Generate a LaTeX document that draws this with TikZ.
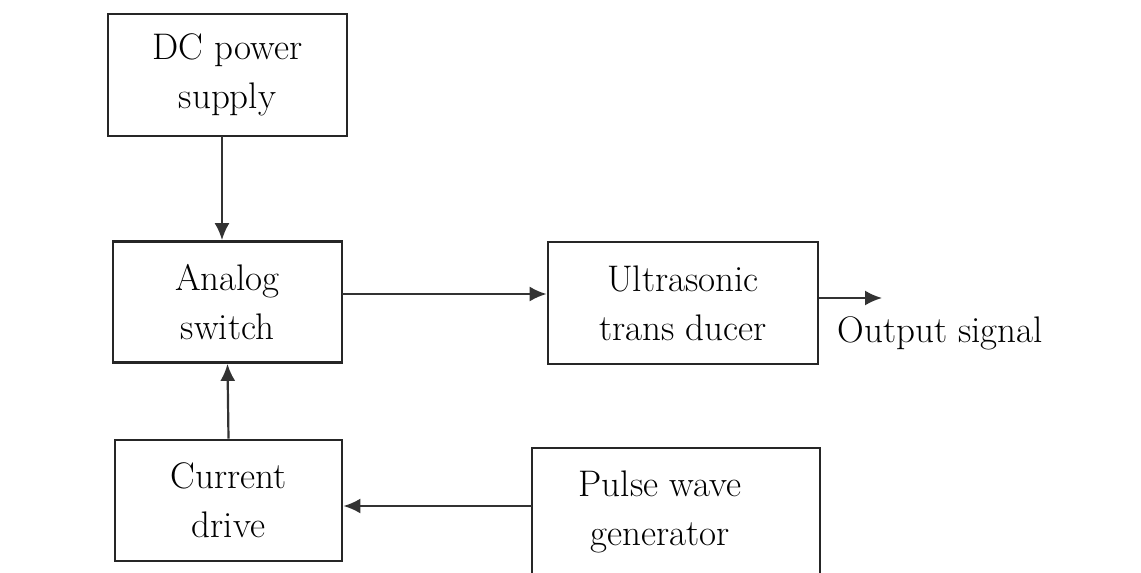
\documentclass[tikz,border=0pt]{standalone}
\usetikzlibrary{arrows.meta}
\begin{document}
\begin{tikzpicture}[x=1pt,y=-1pt,
  txt/.style={font=\fontsize{37}{49}\selectfont},
  blk/.style={draw=black!85,line width=2.8pt,inner sep=0pt,align=center,txt},
  arr/.style={draw=black!80,line width=2.2pt,-{Latex[length=17pt,width=15pt]}}]
\useasboundingbox[fill=white] (0,0) rectangle (1141,573);
\node[blk,minimum width=239pt,minimum height=122pt] (dc) at (227.5,75) {DC power\\supply};
\node[blk,minimum width=229pt,minimum height=121pt] (as) at (227.5,302) {Analog\\switch};
\node[blk,minimum width=270pt,minimum height=122pt] (us) at (683,303) {Ultrasonic\\trans ducer};
\node[blk,minimum width=227pt,minimum height=121pt] (cd) at (228.5,500.5) {Current\\drive};
\node[blk,minimum width=288pt,minimum height=142pt] (pw) at (676,519) {};
\node[txt,align=center] (pwt) at (660,512) {Pulse wave\\generator};
\node[txt,anchor=west] (outl) at (834,333) {Output signal};
\coordinate (out) at (882,298);
\coordinate (a1) at (342,294);
\coordinate (p1) at (532,506);
\coordinate (d1) at (222,136);
\draw[arr] (d1) -- (d1 |- as.north);
\draw[arr] (a1) -- (a1 -| us.west);
\draw[arr] ([yshift=5pt]us.east) -- (out);
\draw[arr] (cd.north) -- (as.south);
\draw[arr] (p1) -- (p1 -| cd.east);
\end{tikzpicture}
\end{document}
